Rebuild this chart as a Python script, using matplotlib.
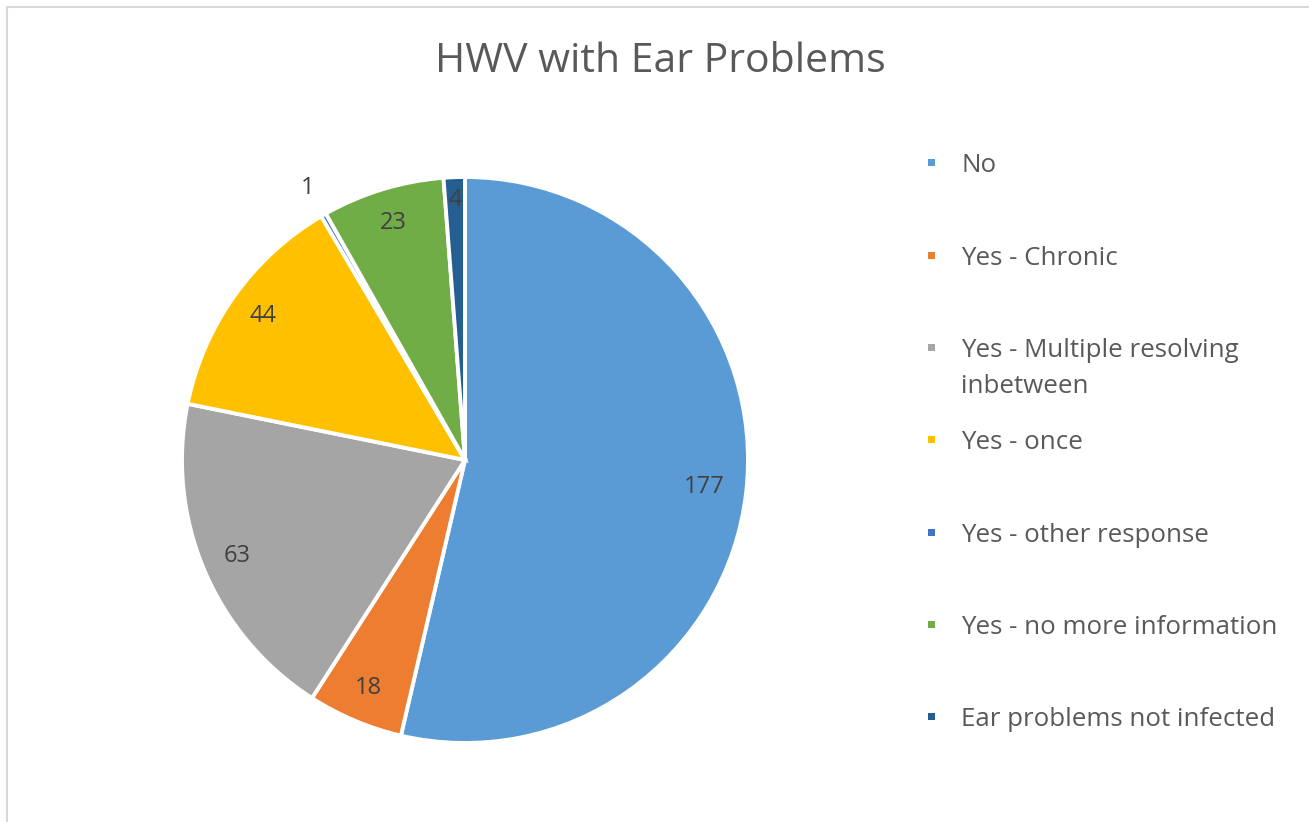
import matplotlib.pyplot as plt
from matplotlib.lines import Line2D
from matplotlib.patches import Rectangle
import numpy as np

# HWV ear problem responses
categories = [
    "No",
    "Yes - Chronic",
    "Yes - Multiple resolving\ninbetween",
    "Yes - once",
    "Yes - other response",
    "Yes - no more information",
    "Ear problems not infected",
]
counts = [177, 18, 63, 44, 1, 23, 4]
colors = ["#5B9BD5", "#ED7D31", "#A5A5A5", "#FFC000", "#4472C4", "#70AD47", "#255E91"]
title = "HWV with Ear Problems"

plt.rcParams['font.family'] = ['Open Sans', 'DejaVu Sans']

W, H = 1309, 822
fig = plt.figure(figsize=(W / 100, H / 100), dpi=100)

def fx(px):
    return px / W

def fy(py):
    return 1 - py / H

# pie, centre (465, 460), radius 283 px
cx, cy, rad = 465, 460, 283
ax = fig.add_axes([fx(cx - rad), fy(cy + rad), 2 * rad / W, 2 * rad / H])
wedges, _ = ax.pie(counts, colors=colors, startangle=90, counterclock=False,
                   radius=1, wedgeprops=dict(edgecolor='white', linewidth=2.8))
ax.set_xlim(-1, 1)
ax.set_ylim(-1, 1)
ax.set_aspect('auto')
ax.axis('off')

# data labels: inside the slice, tiny slices pushed out
for w, n in zip(wedges, counts):
    mid = np.deg2rad((w.theta1 + w.theta2) / 2)
    if n == 1:
        r = 1.11
    elif n < 10:
        r = 0.92
    elif n > 100:
        r = 0.85
    else:
        r = 0.875
    ax.text(r * np.cos(mid), r * np.sin(mid), str(n), ha='center', va='center',
            fontsize=17, color='#404040')

fig.text(fx(660), fy(62), title, ha='center', va='center', fontsize=29.5, color='#595959')

# legend, one row every ~92 px, wrapped lines 36 px apart
for i, (lab, col) in enumerate(zip(categories, colors)):
    ypx = 163 + i * 92.3
    fig.add_artist(Rectangle((fx(928), fy(ypx + 3.5)), 7 / W, 7 / H,
                             transform=fig.transFigure, facecolor=col, edgecolor='none'))
    for k, line in enumerate(lab.split('\n')):
        fig.text(fx(961), fy(ypx + k * 36), line, ha='left', va='center_baseline',
                 fontsize=18.6, color='#595959')

# chart frame
fig.add_artist(Line2D([fx(7), fx(7)], [fy(7), 0], transform=fig.transFigure,
                      color='#D9D9D9', lw=1.5))
fig.add_artist(Line2D([fx(7), 1], [fy(7), fy(7)], transform=fig.transFigure,
                      color='#D9D9D9', lw=1.5))

fig.savefig('out.png', dpi=100, facecolor='white')
